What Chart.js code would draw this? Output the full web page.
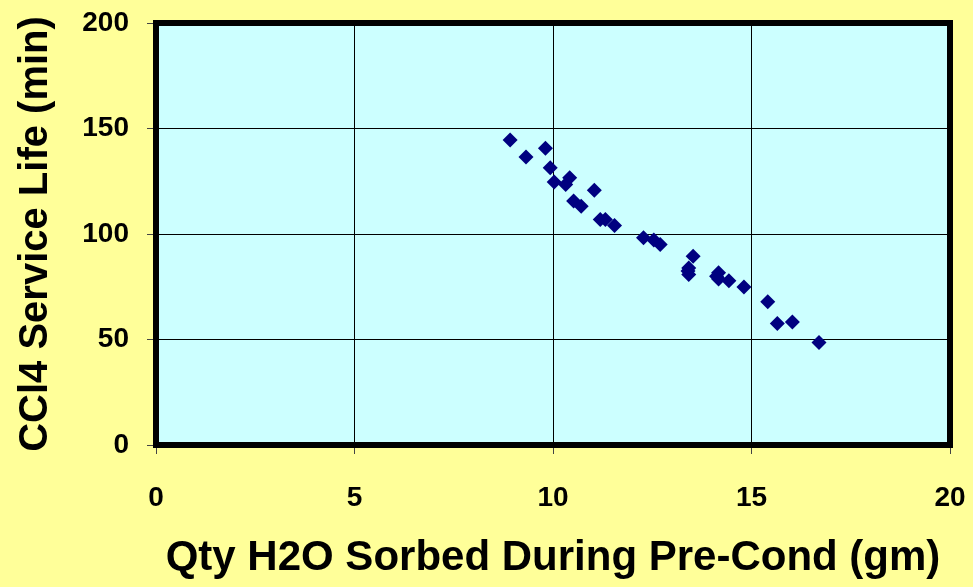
<!DOCTYPE html>
<html>
<head>
<meta charset="utf-8">
<script src="https://cdn.jsdelivr.net/npm/chart.js@4"></script>
<style>
  body { margin: 0; background: #FFFF99; }
  canvas { display: block; }
</style>
</head>
<body>
<canvas id="chart" width="973" height="587"></canvas>
<script>
// Data
const waterSorbed = [8.92, 9.32, 9.81, 9.93, 10.03, 10.32, 10.42, 11.04, 10.52, 10.71, 11.19, 11.32, 11.55,
  12.28, 12.54, 12.70, 13.53, 13.42, 13.40, 13.42, 14.17, 14.12, 14.17, 14.43, 14.81, 15.41, 15.65, 16.03, 16.70];
const serviceLife = [144.6, 136.5, 140.6, 131.4, 124.6, 123.5, 126.7, 120.7, 115.6, 113.2, 106.9, 106.9, 104.0,
  98.2, 97.1, 95.0, 89.5, 83.9, 82.5, 80.8, 81.6, 80.0, 78.7, 77.9, 74.9, 67.9, 57.6, 58.3, 48.6];
const xTicks = [0, 5, 10, 15, 20];
const yTicks = [0, 50, 100, 150, 200];

const points = waterSorbed.map((x, i) => ({ x: x, y: serviceLife[i] }));

// plot area fill + heavy frame
const plotFrame = {
  id: 'plotFrame',
  beforeDraw(chart) {
    const { ctx, chartArea: a } = chart;
    ctx.save();
    ctx.fillStyle = '#CCFFFF';
    ctx.fillRect(a.left, a.top, a.right - a.left, a.bottom - a.top);
    ctx.restore();
  },
  beforeDatasetsDraw(chart) {
    const { ctx, chartArea: a } = chart;
    ctx.save();
    ctx.strokeStyle = '#000';
    ctx.lineWidth = 6;
    ctx.strokeRect(a.left, a.top, a.right - a.left, a.bottom - a.top);
    ctx.restore();
  }
};

const tickFont = { family: 'Arial, "Liberation Sans"', size: 28, weight: 'bold' };
const titleFont = { family: 'Arial, "Liberation Sans"', size: 40, weight: 'bold' };

new Chart(document.getElementById('chart'), {
  type: 'scatter',
  data: {
    datasets: [{
      data: points,
      pointStyle: 'rectRot',
      pointRadius: 7.5,
      pointHoverRadius: 7.5,
      backgroundColor: '#000080',
      borderColor: '#000080',
      borderWidth: 0
    }]
  },
  options: {
    responsive: false,
    animation: false,
    layout: { padding: { top: 23, right: 23, left: 0, bottom: 0 } },
    plugins: { legend: { display: false }, tooltip: { enabled: false } },
    scales: {
      x: {
        type: 'linear',
        min: 0, max: 20,
        afterBuildTicks: s => { s.ticks = xTicks.map(v => ({ value: v })); },
        afterFit: s => { s.height = 142; s.paddingLeft = 0; s.paddingRight = 0; },
        grid: { color: '#000', lineWidth: 1, tickLength: 9, tickColor: '#444' },
        border: { display: false },
        ticks: { color: '#000', font: tickFont, padding: 27, maxRotation: 0 },
        title: { display: true, text: 'Qty H2O Sorbed During Pre-Cond (gm)', color: '#000',
          font: { ...titleFont, size: 42 }, padding: { top: 0, bottom: 3 } }
      },
      y: {
        type: 'linear',
        min: 0, max: 200,
        afterBuildTicks: s => { s.ticks = yTicks.map(v => ({ value: v })); },
        afterFit: s => { s.width = 156; s.paddingTop = 0; s.paddingBottom = 0; },
        grid: { color: '#000', lineWidth: 1, tickLength: 9, tickColor: '#444' },
        border: { display: false },
        ticks: { color: '#000', font: tickFont, padding: 18 },
        title: { display: true, text: 'CCl4 Service Life (min)', color: '#000',
          font: titleFont, padding: { top: 12, bottom: 0 } }
      }
    }
  },
  plugins: [plotFrame]
});
</script>
</body>
</html>
